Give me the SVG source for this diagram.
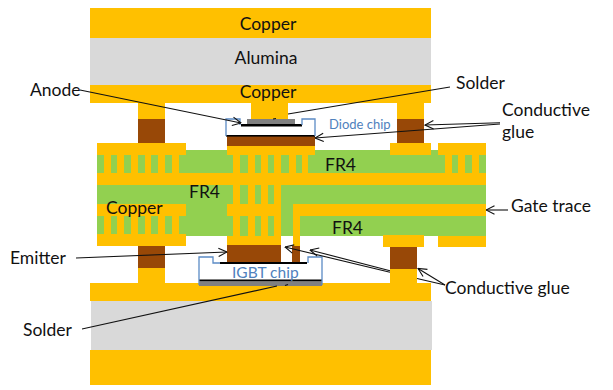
<svg xmlns="http://www.w3.org/2000/svg" width="613" height="390" viewBox="0 0 613 390">
<style>
.cu{fill:#FFC000}.al{fill:#D9D9D9}.fr{fill:#92D050}.gl{fill:#984807}.sd{fill:#808080}.bk{fill:#000}
.chip{fill:none;stroke:#5B8BC5;stroke-width:1.3}
.ln{fill:none;stroke:#111;stroke-width:1.1}
.ar{marker-end:url(#open)}
text{font-family:"Lato","Carlito","Liberation Sans",sans-serif;fill:#111;font-size:17.5px}
.m{text-anchor:middle}
.b{fill:#4F81BD}
</style>
<defs>
<marker id="open" viewBox="0 0 10 10" refX="9.5" refY="5" markerWidth="10" markerHeight="10" markerUnits="userSpaceOnUse" orient="auto">
<path d="M1 0.8L9.5 5L1 9.2" fill="none" stroke="#111" stroke-width="1.1"/>
</marker>
</defs>
<g id="substrate-top">
<rect class="al" x="90" y="38" width="341" height="47"/>
<rect class="cu" x="90" y="8" width="341" height="30"/>
<rect class="cu" x="90" y="85" width="341" height="18"/>
<text class="m" x="268" y="30">Copper</text>
<text class="m" x="266" y="64">Alumina</text>
<text class="m" x="268" y="98">Copper</text>
</g>
<g id="substrate-bottom">
<rect class="al" x="91" y="301" width="341" height="49"/>
<rect class="cu" x="90" y="283" width="341" height="18"/>
<rect class="cu" x="90" y="350" width="341" height="35"/>
</g>
<g id="pcb">
<rect class="fr" x="97" y="150" width="389" height="86"/>
<rect class="cu" x="97" y="143" width="89" height="12"/>
<rect class="cu" x="97" y="173" width="389" height="12"/>
<rect class="cu" x="97" y="204" width="89" height="12"/>
<rect class="cu" x="97" y="234" width="89" height="12"/>
<rect class="cu" x="227" y="146" width="88" height="9"/>
<rect class="cu" x="227" y="204" width="54" height="12"/>
<rect class="cu" x="227" y="236" width="54" height="9"/>
<rect class="cu" x="390" y="143" width="41" height="12"/>
<rect class="cu" x="438" y="143" width="48" height="12"/>
<rect class="cu" x="293" y="204" width="193" height="12"/>
<rect class="cu" x="293" y="204" width="7" height="43"/>
<rect class="cu" x="383" y="235" width="41" height="12"/>
<rect class="cu" x="438" y="236" width="48" height="11"/>
<g class="cu">
<rect x="104" y="155" width="7" height="18"/><rect x="117" y="155" width="7" height="18"/><rect x="131" y="155" width="7" height="18"/><rect x="145" y="155" width="6" height="18"/><rect x="158" y="155" width="7" height="18"/><rect x="172" y="155" width="7" height="18"/>
<rect x="104" y="216" width="7" height="18"/><rect x="117" y="216" width="7" height="18"/><rect x="131" y="216" width="7" height="18"/><rect x="145" y="216" width="6" height="18"/><rect x="158" y="216" width="7" height="18"/><rect x="172" y="216" width="7" height="18"/>
<rect x="233" y="155" width="7" height="81"/><rect x="248" y="155" width="7" height="81"/><rect x="261" y="155" width="7" height="81"/><rect x="274" y="155" width="7" height="81"/>
<rect x="289" y="155" width="7" height="18"/><rect x="302" y="155" width="6" height="18"/>
<rect x="445" y="155" width="7" height="18"/><rect x="458" y="155" width="7" height="18"/><rect x="472" y="155" width="7" height="18"/>
</g>
<text x="325" y="171">FR4</text>
<text x="189" y="198">FR4</text>
<text x="106" y="214">Copper</text>
<text x="332" y="234">FR4</text>
</g>
<g id="posts">
<rect class="cu" x="138" y="103" width="27" height="16"/><rect class="gl" x="138" y="119" width="27" height="24"/>
<rect class="cu" x="397" y="103" width="27" height="16"/><rect class="gl" x="397" y="119" width="27" height="24"/>
<rect class="cu" x="251" y="103" width="37" height="16"/>
<rect class="gl" x="138" y="246" width="27" height="22"/><rect class="cu" x="138" y="268" width="27" height="15"/>
<rect class="gl" x="390" y="247" width="27" height="22"/><rect class="cu" x="390" y="269" width="27" height="14"/>
</g>
<g id="diode-chip">
<rect class="gl" x="227" y="136" width="88" height="10"/>
<rect class="sd" x="247" y="119" width="48" height="5"/>
<rect class="bk" x="241" y="124" width="61" height="2.5"/>
<rect class="bk" x="226" y="135" width="89" height="1.6"/>
<path class="chip" d="M226 136V119H240V125M302 125V119H315V136"/>
<text class="b" x="329" y="129" style="font-size:13px">Diode chip</text>
</g>
<g id="igbt-chip">
<rect class="gl" x="227" y="245" width="54" height="17"/>
<rect class="gl" x="292" y="246" width="8" height="17"/>
<rect class="sd" x="199" y="281" width="123" height="5"/>
<rect class="bk" x="199" y="279.5" width="123" height="1.6"/>
<rect class="bk" x="220" y="262" width="87" height="2"/>
<path class="chip" d="M220 263H213V257H199V285M308 263V257H322V285"/>
<text class="b" x="232" y="278" style="font-size:15.5px">IGBT chip</text>
</g>
<g id="connectors">
<line class="ln ar" x1="80" y1="90" x2="241" y2="123"/>
<path class="ln" d="M450 87L288 114M276 118.5L273 119"/>
<line class="ln ar" x1="76" y1="258" x2="227" y2="252"/>
<path class="ln" d="M82 329L277 286M285 285.5L288 284.5"/>
<line class="ln ar" x1="500" y1="122.7" x2="425" y2="125"/>
<line class="ln ar" x1="500" y1="124" x2="315" y2="138"/>
<line class="ln ar" x1="508" y1="210" x2="486" y2="210"/>
<line class="ln ar" x1="445" y1="285" x2="418" y2="268.5"/>
<path class="ln" d="M445 285L417 278.5"/>
<line class="ln ar" x1="390" y1="270.7" x2="310" y2="250"/>
<line class="ln ar" x1="390" y1="272.3" x2="285" y2="247"/>
</g>
<g id="labels">
<text x="30" y="96">Anode</text>
<text x="456" y="89">Solder</text>
<text x="502" y="116">Conductive</text>
<text x="502" y="138">glue</text>
<text x="511" y="212">Gate trace</text>
<text x="10" y="264">Emitter</text>
<text x="23" y="336">Solder</text>
<text x="445" y="294">Conductive glue</text>
</g>
</svg>
